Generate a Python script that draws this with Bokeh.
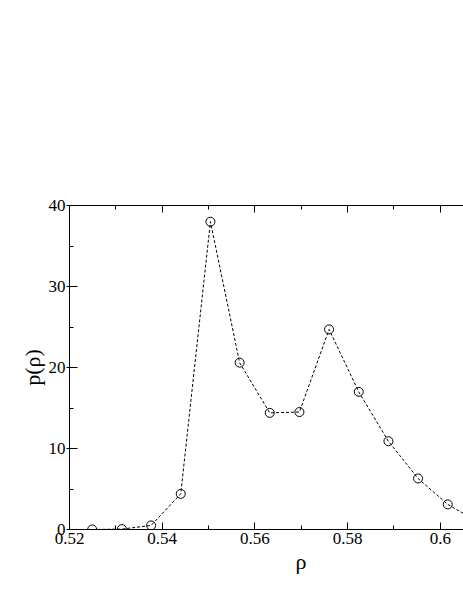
from bokeh.plotting import figure
from bokeh.models import (LinearAxis, FixedTicker, Range1d, Title,
                          CustomJSTickFormatter, ColumnDataSource)
from bokeh.embed import file_html
from bokeh.resources import INLINE

# data
rho = [0.5249, 0.5313, 0.5376, 0.5440, 0.5504, 0.5567, 0.5632, 0.5696,
       0.5760, 0.5824, 0.5888, 0.5952, 0.6016, 0.6080, 0.6144]
p_rho = [0.0, 0.05, 0.5, 4.4, 38.0, 20.6, 14.4, 14.5,
         24.7, 17.0, 10.9, 6.3, 3.1, 1.0, 0.3]

x_ticks = [0.52, 0.54, 0.56, 0.58, 0.60]
x_tick_labels = ["0.52", "0.54", "0.56", "0.58", "0.6"]
x_minor = [0.53, 0.55, 0.57, 0.59]
y_ticks = [0, 10, 20, 30, 40]
y_tick_labels = ["0", "10", "20", "30", "40"]
y_minor = [5, 15, 25, 35]

FONT = "Liberation Serif"

p = figure(width=463, height=595, output_backend="svg", toolbar_location=None,
           x_range=Range1d(0.52, 0.6050), y_range=Range1d(0, 40),
           min_border_left=69, min_border_top=205, min_border_bottom=66,
           min_border_right=0, x_axis_location="below")
p.outline_line_color = None
p.grid.visible = False
p.background_fill_color = "white"
p.border_fill_color = "white"

src = ColumnDataSource(data=dict(x=rho, y=p_rho))
p.line("x", "y", source=src, line_color="black", line_width=1, line_dash="3 2")
p.scatter("x", "y", source=src, marker="circle", size=9, fill_color=None,
          line_color="black", line_width=1)

# bottom axis
xa = p.xaxis[0]
xa.ticker = FixedTicker(ticks=x_ticks, minor_ticks=x_minor)
xa.major_label_overrides = {t: l for t, l in zip(x_ticks, x_tick_labels)}
xa.major_tick_in = 7
xa.major_tick_out = 0
xa.minor_tick_in = 4
xa.minor_tick_out = 0
xa.major_label_standoff = 3
xa.major_label_text_font = FONT
xa.major_label_text_font_size = "17px"
xa.major_label_text_color = "black"
xa.major_label_text_line_height = 1.0
xa.axis_line_color = "black"

# left axis
ya = p.yaxis[0]
ya.ticker = FixedTicker(ticks=y_ticks, minor_ticks=y_minor)
ya.major_label_overrides = {t: l for t, l in zip(y_ticks, y_tick_labels)}
ya.major_tick_in = 8
ya.major_tick_out = 3
ya.minor_tick_in = 4
ya.minor_tick_out = 0
ya.major_label_standoff = 1
ya.major_label_text_font = FONT
ya.major_label_text_font_size = "17px"
ya.major_label_text_color = "black"
ya.axis_label = "p(ρ)"
ya.axis_label_text_font = FONT
ya.axis_label_text_font_size = "22px"
ya.axis_label_text_font_style = "normal"
ya.axis_label_text_color = "black"
ya.axis_label_standoff = 1

# top axis (ticks only)
top = LinearAxis(ticker=FixedTicker(ticks=x_ticks, minor_ticks=x_minor),
                 formatter=CustomJSTickFormatter(code="return ''"))
top.major_tick_in = 7
top.major_tick_out = 0
top.minor_tick_in = 4
top.minor_tick_out = 0
top.axis_line_color = "black"
p.add_layout(top, "above")

# x axis label (centered on the original, wider frame -> shifted right)
xlab = Title(text="ρ", align="left", offset=226, text_font=FONT,
             text_font_size="22px", text_font_style="normal",
             text_color="black", standoff=0, text_line_height=0.8)
p.add_layout(xlab, "below")

open("out.html", "w").write(file_html(p, INLINE))
